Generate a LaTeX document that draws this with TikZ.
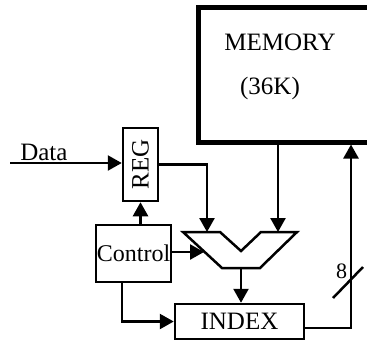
\documentclass[tikz,border=0pt]{standalone}
\usepackage{fontspec}
\setmainfont{Liberation Serif}
\usetikzlibrary{arrows.meta}
\usetikzlibrary{positioning}
\usetikzlibrary{calc}

\begin{document}
\begin{tikzpicture}[x=1pt,y=-1pt,>={Triangle[length=14pt,width=15pt]},line width=2.5pt,
  font=\fontsize{25}{29}\selectfont,
  blk/.style={draw,rectangle,inner sep=0pt}]
\useasboundingbox (0,0) rectangle (367,341);
%\path[draw,red] (0,0) rectangle (367,341);
\path node[blk,minimum width=190pt,minimum height=135pt,line width=4.5pt,anchor=north west] (mem) at (196,5) {};
\path node (memtxt) at (280,42) {MEMORY};
\path node (memsize) at (270,88) {(36K)};
\path node[blk,minimum width=35pt,minimum height=73pt] (reg) at (140.5,164.5) {\rotatebox{90}{REG}};
\path coordinate (din) at (10,163);
\path node[anchor=base west,inner sep=0pt] (data) at (19,160) {Data};
\path node[blk,minimum width=75pt,minimum height=57pt] (ctl) at (133.5,253.5) {\fontsize{24}{28}\selectfont Control};
\path node[blk,minimum width=129pt,minimum height=35pt] (idx) at (239.5,321.5) {INDEX};
% mux
\path coordinate (mux) at (240,232);
\path[draw] (mux) ++(-57,0) -- ++(37,0) -- ++(21,19) -- ++(20,-19) -- ++(36,0) -- ++(-37,36) -- ++(-38,0) -- cycle;
\path coordinate (muxa) at (207,232);
\path coordinate (muxb) at (278,232);
\path coordinate (muxo) at (241,268);
\path coordinate (muxc) at (204,252);
% connections
\path[->,draw] (din) -- (din -| reg.west);
\path[->,draw] (reg.east) -| (muxa);
\path[->,draw] (mem.south -| muxb) -- (muxb);
\path[->,draw] (ctl.north -| reg.south) -- (reg.south);
\path[->,draw] (ctl.east |- muxc) -- (muxc);
\path[->,draw] (muxo) -- (muxo |- idx.north);
\path[->,draw] ($(ctl.south)+(-11.5,0)$) |- (idx.west);
\path coordinate (bus) at (351,328);
\path[->,draw] (idx.east |- bus) -- (bus) -- (bus |- mem.south);
\path coordinate (cut) at (351,280);
\path[draw] (cut) ++(-18,18) -- ++(30,-31);
\path node[font=\fontsize{22}{25}\selectfont,inner sep=0pt] (width) at (341.5,271.5) {8};
\end{tikzpicture}
\end{document}
